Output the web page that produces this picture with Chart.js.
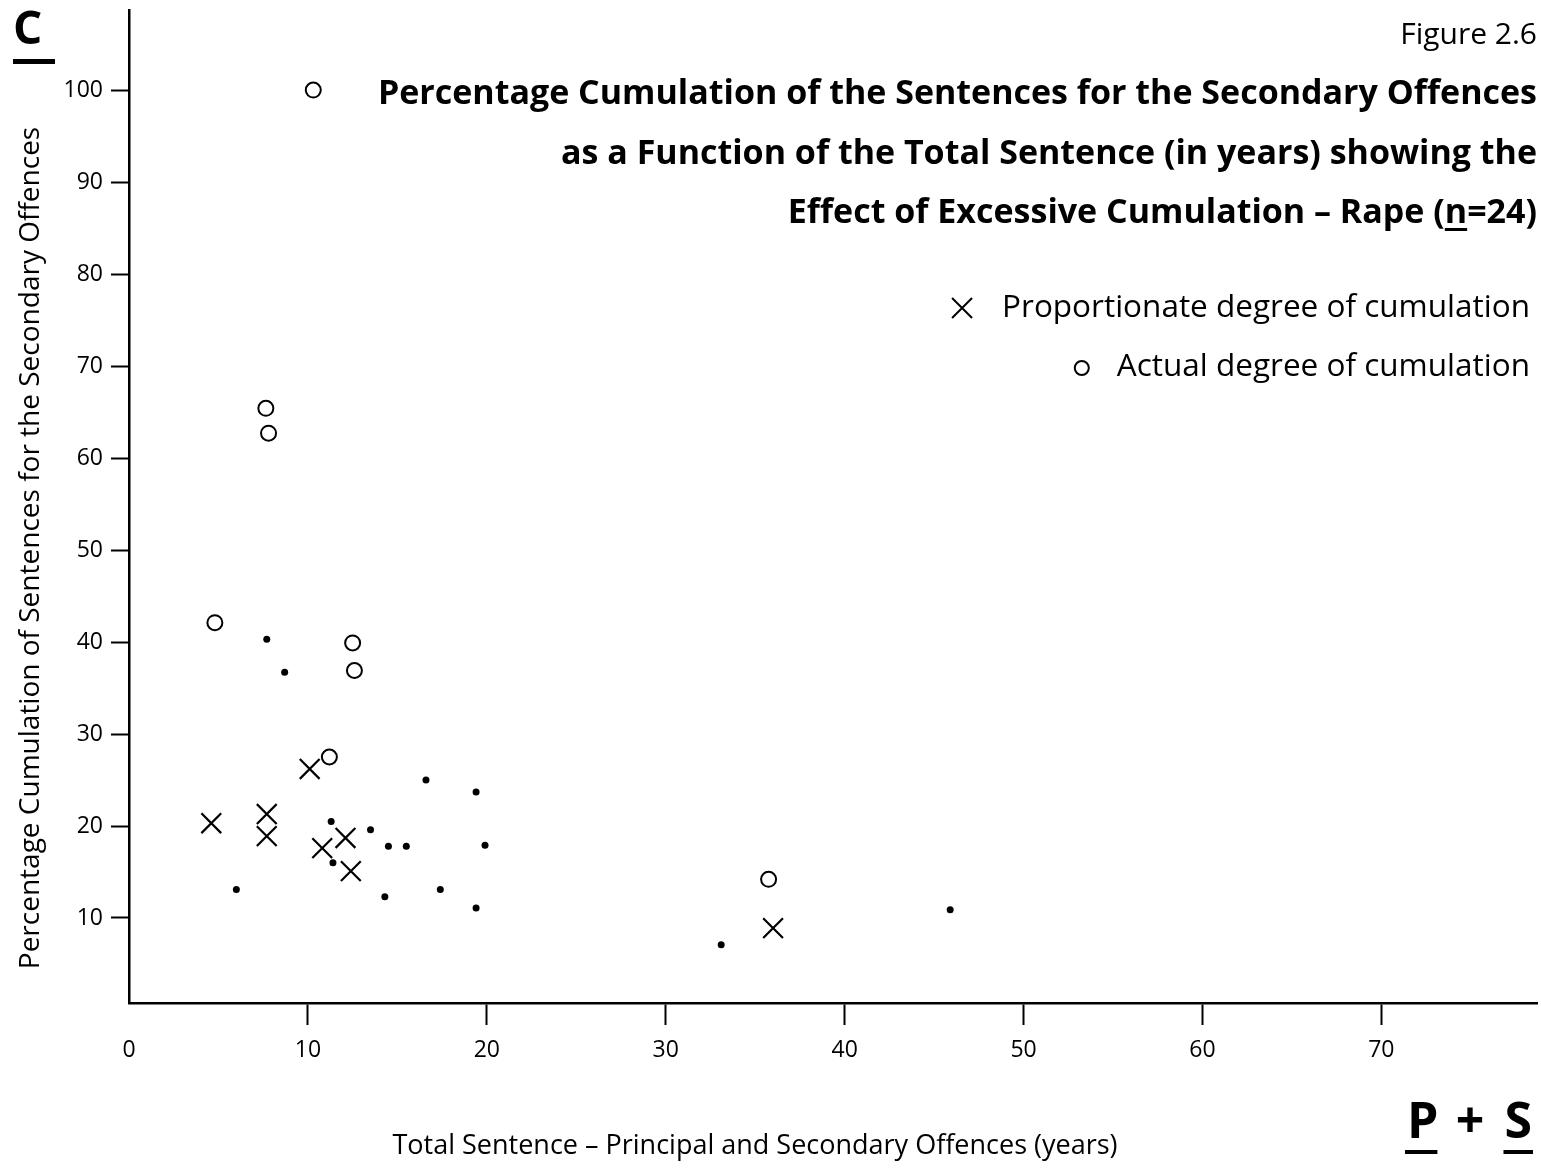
<!DOCTYPE html>
<html>
<head>
<meta charset="utf-8">
<script src="https://cdn.jsdelivr.net/npm/chart.js@4/dist/chart.umd.min.js"></script>
<style>
  html, body { margin: 0; padding: 0; background: #fff; }
  #wrap { width: 1541px; height: 1168px; }
</style>
</head>
<body>
<div id="wrap"><canvas id="grafico" width="1541" height="1168"></canvas></div>
<script>
// Proportionate degree of cumulation (crosses)
const sentenceProp = [4.6, 7.7, 7.7, 10.1, 10.8, 12.1, 12.4, 36.0];
const cumulProp = [20.3, 21.3, 18.9, 26.2, 17.6, 18.7, 15.1, 8.9];

// Actual degree of cumulation (open circles)
const sentenceActual = [10.3, 7.65, 7.8, 4.8, 12.5, 12.6, 11.2, 35.75];
const cumulActual = [100, 65.4, 62.7, 42.1, 39.9, 36.9, 27.5, 14.2];

// remaining cases (small dots)
const sentenceOther = [7.7, 8.7, 6.0, 11.3, 13.5, 14.5, 15.5, 11.4, 14.3, 16.6, 19.4, 19.9, 17.4, 19.4, 33.1, 45.9];
const cumulOther = [40.3, 36.7, 13.1, 20.5, 19.6, 17.8, 17.8, 16.0, 12.3, 25.0, 23.7, 17.9, 13.1, 11.1, 7.1, 10.9];

const xTicks = [0, 10, 20, 30, 40, 50, 60, 70];
const yTicks = [10, 20, 30, 40, 50, 60, 70, 80, 90, 100];

const figureLabel = 'Figure 2.6';
const titleLines = [
    'Percentage Cumulation of the Sentences for the Secondary Offences',
    'as a Function of the Total Sentence (in years) showing the',
    'Effect of Excessive Cumulation \u2013 Rape (n=24)'
];
const legendProp = 'Proportionate degree of cumulation';
const legendActual = 'Actual degree of cumulation';
const yTitle = 'Percentage Cumulation of Sentences for the Secondary Offences';
const xTitle = 'Total Sentence \u2013 Principal and Secondary Offences (years)';

const FONT = '"Open Sans", Lato, sans-serif';

function puntos(xs, ys) {
    return xs.map((x, i) => ({ x: x, y: ys[i] }));
}

// text, legend and corner marks
const textos = {
    id: 'textos',
    afterDraw(chart) {
        const c = chart.ctx;
        c.save();
        c.fillStyle = '#000';
        c.strokeStyle = '#000';

        // underlined C, top left
        c.font = 'bold 46px ' + FONT;
        c.textAlign = 'left';
        c.textBaseline = 'alphabetic';
        c.fillText('C', 13, 44);
        c.fillRect(13, 59, 42, 5);

        // figure label
        c.font = '30px ' + FONT;
        c.textAlign = 'right';
        c.textBaseline = 'middle';
        c.fillText(figureLabel, 1537, 35);

        // title
        c.font = 'bold 34px ' + FONT;
        const tys = [94, 154, 213];
        titleLines.forEach((t, i) => c.fillText(t, 1537, tys[i]));
        // underline the n of n=24
        const last = titleLines[2];
        const idx = last.lastIndexOf('n=');
        const after = c.measureText(last.slice(idx + 1)).width;
        const nW = c.measureText('n').width;
        c.fillRect(1537 - after - nW, tys[2] + 15, nW, 3);

        // legend
        c.font = '31.5px ' + FONT;
        c.textAlign = 'right';
        c.fillText(legendProp, 1530, 308);
        let x0 = 1530 - c.measureText(legendProp).width - 40;
        c.lineWidth = 2;
        c.beginPath();
        c.moveTo(x0 - 10, 298); c.lineTo(x0 + 10, 318);
        c.moveTo(x0 + 10, 298); c.lineTo(x0 - 10, 318);
        c.stroke();
        c.fillText(legendActual, 1530, 367);
        x0 = 1530 - c.measureText(legendActual).width - 35;
        c.beginPath();
        c.arc(x0, 368, 7, 0, Math.PI * 2);
        c.stroke();

        // axis titles
        c.font = '27px ' + FONT;
        c.textAlign = 'center';
        c.fillText(xTitle, 755, 1146);
        c.save();
        c.translate(31, 548);
        c.rotate(-Math.PI / 2);
        c.font = '28px ' + FONT;
        c.fillText(yTitle, 0, 0);
        c.restore();

        // P + S with underlines
        c.font = 'bold 50px ' + FONT;
        c.textBaseline = 'alphabetic';
        c.textAlign = 'left';
        c.fillText('P', 1407, 1138);
        const wP = c.measureText('P').width;
        c.textAlign = 'center';
        c.fillText('+', 1470, 1138);
        c.textAlign = 'right';
        c.fillText('S', 1532, 1138);
        const wS = c.measureText('S').width;
        c.fillRect(1405, 1150, wP + 1, 4);
        c.fillRect(1532 - wS - 1, 1150, wS + 2, 4);

        c.restore();
    }
};

const ejes = {
    border: { display: true, color: '#000', width: 2.5 },
    grid: { drawOnChartArea: false, drawTicks: true, tickLength: 18, tickWidth: 2, tickColor: '#000' },
    ticks: { color: '#000', font: { family: FONT, size: 23 }, padding: 8 }
};

function sinRelleno(s) {
    s.paddingLeft = 0;
    s.paddingRight = 0;
    s.paddingTop = 0;
    s.paddingBottom = 0;
}

new Chart(document.getElementById('grafico'), {
    type: 'scatter',
    data: {
        datasets: [
            {
                label: 'Other cases',
                data: puntos(sentenceOther, cumulOther),
                pointStyle: 'circle',
                pointRadius: 3.5,
                backgroundColor: '#000',
                borderWidth: 0
            },
            {
                label: legendActual,
                data: puntos(sentenceActual, cumulActual),
                pointStyle: 'circle',
                pointRadius: 7.5,
                backgroundColor: 'rgba(0,0,0,0)',
                borderColor: '#000',
                borderWidth: 2
            },
            {
                label: legendProp,
                data: puntos(sentenceProp, cumulProp),
                pointStyle: 'crossRot',
                pointRadius: 14,
                borderColor: '#000',
                borderWidth: 2.2
            }
        ]
    },
    options: {
        responsive: false,
        animation: false,
        events: [],
        layout: { autoPadding: false, padding: { left: 0, top: 10, right: 4, bottom: 0 } },
        plugins: {
            legend: { display: false },
            tooltip: { enabled: false }
        },
        scales: {
            x: {
                type: 'linear',
                min: 0,
                max: 78.7,
                border: ejes.border,
                grid: Object.assign({}, ejes.grid, {
                    tickLength: 22,
                    tickColor: ctx => (ctx.tick && ctx.tick.value === 0) ? 'rgba(0,0,0,0)' : '#000'
                }),
                ticks: Object.assign({}, ejes.ticks, { padding: 12, maxRotation: 0 }),
                afterBuildTicks: s => { s.ticks = xTicks.map(v => ({ value: v })); },
                afterFit: s => { s.height = 165; sinRelleno(s); }
            },
            y: {
                type: 'linear',
                min: 0.76,
                max: 108.7,
                border: ejes.border,
                grid: ejes.grid,
                ticks: ejes.ticks,
                afterBuildTicks: s => { s.ticks = yTicks.map(v => ({ value: v })); },
                afterFit: s => { s.width = 129; sinRelleno(s); }
            }
        }
    },
    plugins: [textos]
});
</script>
</body>
</html>
